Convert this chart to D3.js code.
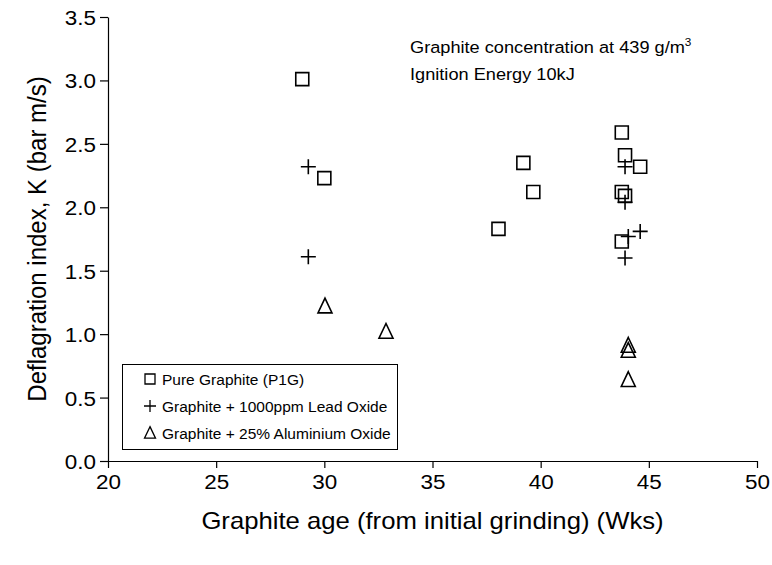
<!DOCTYPE html>
<html>
<head>
<meta charset="utf-8">
<script src="https://cdn.jsdelivr.net/npm/d3@7"></script>
<style>
  html, body { margin: 0; padding: 0; background: #fff; }
  svg text { font-family: "Liberation Sans", Arial, sans-serif; fill: #000; }
</style>
</head>
<body>
<svg id="chart" width="772" height="565"></svg>
<script>
// Graphite age (weeks) vs deflagration index K (bar m/s)
const pureGraphiteAge = [28.98, 30.0, 38.05, 39.2, 39.66, 43.75, 43.9, 44.6, 43.75, 43.9, 43.75];
const pureGraphiteK   = [3.01, 2.23, 1.83, 2.35, 2.12, 2.59, 2.41, 2.32, 2.12, 2.09, 1.73];

const leadOxideAge = [29.26, 29.26, 43.9, 43.9, 44.05, 44.6, 43.9];
const leadOxideK   = [2.32, 1.61, 2.32, 2.04, 1.77, 1.81, 1.60];

const aluminiumOxideAge = [30.03, 32.85, 44.05, 44.05, 44.05];
const aluminiumOxideK   = [1.22, 1.02, 0.91, 0.87, 0.64];

const xTicks = [20, 25, 30, 35, 40, 45, 50];
const yTicks = [0.0, 0.5, 1.0, 1.5, 2.0, 2.5, 3.0, 3.5];

const seriesNames = [
  "Pure Graphite (P1G)",
  "Graphite + 1000ppm Lead Oxide",
  "Graphite + 25% Aluminium Oxide"
];

const svg = d3.select("#chart");
const margin = { left: 108, right: 15, top: 17, bottom: 104 };
const W = 772, H = 565;
const stretch = 1.07; // text is set slightly wide

const x = d3.scaleLinear().domain([20, 50]).range([margin.left, W - margin.right]);
const y = d3.scaleLinear().domain([0, 3.5]).range([H - margin.bottom, margin.top]);

// marker shapes centred on the origin
function squarePath(s) {
  const h = s / 2;
  return `M${-h},${-h}H${h}V${h}H${-h}Z`;
}
function plusPath(s) {
  const h = s / 2;
  return `M${-h},0H${h}M0,${-h}V${h}`;
}
function trianglePath(w) {
  const h = w / 2, t = w * 1.05;
  return `M0,${-t * 0.55}L${h},${t * 0.45}L${-h},${t * 0.45}Z`;
}

// places a text at (px, py) with the wide setting
function wideText(parent, px, py, size, anchor) {
  return parent.append("text")
    .attr("transform", `translate(${px},${py}) scale(${stretch},1)`)
    .attr("text-anchor", anchor || "start")
    .style("font-size", size + "px");
}

// axes
const xAxis = d3.axisBottom(x).tickValues(xTicks).tickFormat(d3.format("d")).tickSize(7).tickSizeOuter(0);
const yAxis = d3.axisLeft(y).tickValues(yTicks).tickFormat(d3.format(".1f")).tickSize(8).tickSizeOuter(0);

const gx = svg.append("g").attr("transform", `translate(0,${y(0)})`).call(xAxis);
const gy = svg.append("g").attr("transform", `translate(${x(20)},0)`).call(yAxis);

[gx, gy].forEach(g => {
  g.select(".domain").attr("stroke", "#000").attr("stroke-width", 1.2);
  g.selectAll(".tick line").attr("stroke", "#000").attr("stroke-width", 1.2);
  g.selectAll(".tick text").style("font-size", "21px").attr("fill", "#000");
});
gx.selectAll(".tick text").attr("y", 0).attr("dy", 0)
  .attr("transform", `translate(0,28) scale(${stretch},1)`);
gy.selectAll(".tick text").attr("x", 0).attr("dy", 0)
  .attr("transform", `translate(-12,7.5) scale(${stretch},1)`);

// axis titles
wideText(svg, (x(20) + x(50)) / 2, 529, 24, "middle")
  .text("Graphite age (from initial grinding) (Wks)");

svg.append("text")
  .attr("transform", `translate(46,${(y(0) + y(3.5)) / 2}) rotate(-90) scale(1,${stretch})`)
  .attr("text-anchor", "middle")
  .style("font-size", "24px")
  .text("Deflagration index, K (bar m/s)");

// annotation
const note = wideText(svg, 410, 53, 17);
note.append("tspan").text("Graphite concentration at 439 g/m");
note.append("tspan").attr("dy", "-7").style("font-size", "11px").text("3");
wideText(svg, 410, 80, 17).text("Ignition Energy 10kJ");

// data marks
const markStyle = sel => sel.attr("fill", "none").attr("stroke", "#000").attr("stroke-width", 1.6);

svg.append("g").selectAll("path")
  .data(d3.zip(pureGraphiteAge, pureGraphiteK))
  .join("path")
  .attr("d", squarePath(13))
  .attr("transform", d => `translate(${x(d[0])},${y(d[1])})`)
  .call(markStyle);

svg.append("g").selectAll("path")
  .data(d3.zip(leadOxideAge, leadOxideK))
  .join("path")
  .attr("d", plusPath(15))
  .attr("transform", d => `translate(${x(d[0])},${y(d[1])})`)
  .call(markStyle);

svg.append("g").selectAll("path")
  .data(d3.zip(aluminiumOxideAge, aluminiumOxideK))
  .join("path")
  .attr("d", trianglePath(14))
  .attr("transform", d => `translate(${x(d[0])},${y(d[1])})`)
  .call(markStyle);

// legend
const legend = svg.append("g");
legend.append("rect")
  .attr("x", 122.5).attr("y", 364.5).attr("width", 275).attr("height", 85)
  .attr("fill", "#fff").attr("stroke", "#000").attr("stroke-width", 1);

const legendShapes = [squarePath(10), plusPath(12), trianglePath(11)];
seriesNames.forEach((name, i) => {
  const cy = 379 + i * 27;
  legend.append("path")
    .attr("d", legendShapes[i])
    .attr("transform", `translate(150,${cy})`)
    .attr("fill", "none").attr("stroke", "#000").attr("stroke-width", 1.3);
  wideText(legend, 162, cy + 6, 14.5).text(name);
});
</script>
</body>
</html>
